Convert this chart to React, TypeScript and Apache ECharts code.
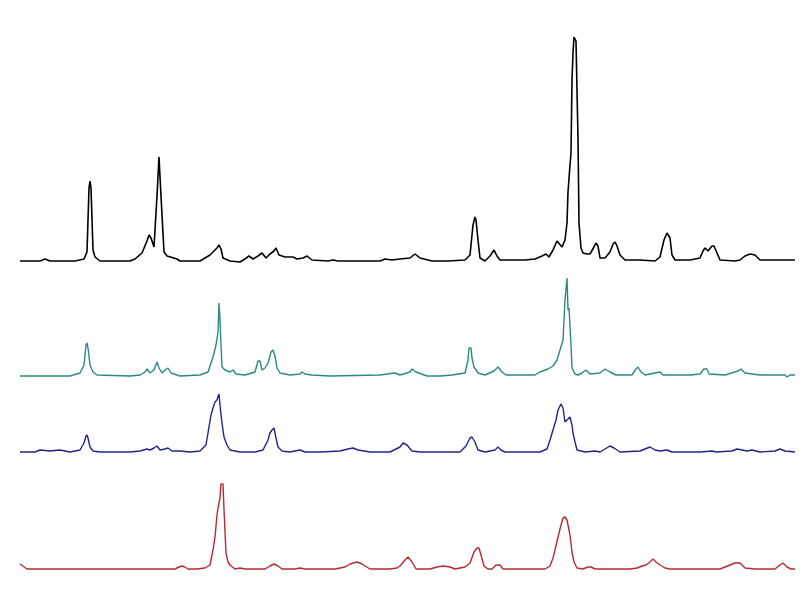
import React, { useEffect, useRef } from "react";
import * as echarts from "echarts";

// [2θ (deg), intensity (a.u.)]
const sampleA: [number, number][] = [
  [5.0,0],[7.0,0],[7.5,2],[8.0,0],[10.5,0],[11.4,2],[11.7,9],[11.9,73],[12.0,80],[12.1,73],[12.3,11],[12.5,4],[13.0,0],
  [16.0,0],[16.5,2],[17.2,8],[17.7,20],[17.9,26],[18.1,23],[18.4,14],[18.7,65],[18.9,104],[19.1,65],[19.4,9],[19.7,5],[20.7,2],[21.0,0],
  [23.0,0],[24.0,6],[24.7,13],[24.9,16],[25.1,12],[25.3,3],[26.0,0],[27.0,-1],[27.5,2],[27.9,5],[28.3,2],[28.8,5],[29.2,8],[29.6,3],
  [30.0,7],[30.4,10],[30.6,13],[30.9,6],[31.5,4],[32.3,4],[32.7,2],[33.3,3],[33.7,5],[34.2,1],[35.8,0],[36.3,1],[36.8,0],
  [41.0,0],[41.5,2],[42.2,1],[43.0,2],[44.0,3],[44.5,7],[45.0,3],[46.2,0],[47.8,0],[49.5,1],[50.0,6],[50.3,36],[50.5,44],[50.6,41],
  [50.8,21],[51.0,3],[51.5,0],[52.0,5],[52.4,11],[52.7,5],[53.0,1],[55.5,1],[56.5,2],[57.2,5],[57.6,7],[57.9,4],[58.3,11],[58.7,20],
  [59.2,14],[59.5,21],[59.7,38],[59.8,69],[60.0,96],[60.1,108],[60.2,181],[60.3,208],[60.4,224],[60.6,220],[60.7,171],[60.8,123],
  [60.9,38],[61.1,13],[61.3,8],[61.7,7],[62.0,7],[62.4,14],[62.6,18],[62.8,15],[63.0,3],[63.5,3],[64.0,9],[64.3,17],[64.5,19],
  [64.7,15],[65.0,6],[65.5,1],[67.0,1],[68.5,0],[69.0,4],[69.4,21],[69.7,28],[70.0,23],[70.2,6],[70.5,1],[72.0,1],[73.0,3],
  [73.3,10],[73.5,13],[73.8,10],[74.2,15],[74.4,15],[74.7,8],[75.0,1],[76.5,0],[77.0,1],[77.5,5],[78.0,7],[78.5,6],[79.0,1],[82.5,1],
];

const sampleB: [number, number][] = [
  [5.0,-1],[10.0,-1],[11.0,2],[11.4,10],[11.6,30],[11.7,32],[11.8,27],[12.0,10],[12.3,3],[12.7,0],[16.0,-1],[17.0,0],[17.5,3],
  [17.7,6],[18.0,2],[18.4,5],[18.7,13],[18.9,7],[19.2,2],[19.5,5],[19.8,7],[20.1,2],[21.0,-1],[23.0,0],[23.8,3],[24.3,18],
  [24.6,30],[24.8,43],[24.9,72],[25.0,55],[25.1,30],[25.2,8],[25.5,5],[26.0,3],[26.3,5],[26.6,1],[27.5,0],[28.5,3],[28.8,14],
  [29.0,14],[29.2,5],[29.5,7],[29.8,12],[30.1,23],[30.3,25],[30.5,19],[30.7,7],[31.0,2],[32.0,0],[33.0,1],[33.2,3],[33.5,1],
  [34.2,0],[36.0,-1],[41.0,0],[42.5,2],[43.0,0],[44.0,3],[44.2,6],[44.6,3],[45.7,-1],[47.0,-1],[48.2,0],[49.5,2],[49.8,15],
  [49.9,27],[50.1,27],[50.2,17],[50.4,8],[50.8,2],[51.5,0],[52.4,4],[52.8,8],[53.2,3],[53.6,0],[56.5,0],[57.0,3],[57.8,6],
  [58.3,9],[58.7,15],[59.0,25],[59.3,35],[59.4,55],[59.5,75],[59.7,97],[59.8,65],[59.9,67],[60.1,30],[60.2,7],[60.5,1],[60.8,0],
  [61.2,2],[61.6,5],[62.0,1],[63.0,2],[63.5,6],[64.0,3],[64.6,0],[66.2,0],[66.6,6],[66.8,8],[67.1,3],[67.5,0],[68.5,2],[69.0,3],
  [69.3,0],[72.0,0],[73.0,1],[73.4,6],[73.7,6],[73.9,1],[75.5,0],[76.8,4],[77.1,6],[77.5,2],[79.0,0],[81.5,0],[81.7,-2],[82.0,0],[82.5,0],
];

const sampleC: [number, number][] = [
  [5.0,0],[6.5,0],[7.0,2],[8.0,1],[9.0,2],[10.0,0],[11.0,2],[11.4,9],[11.6,16],[11.7,17],[11.8,14],[12.0,5],[12.3,1],[13.0,0],
  [16.0,0],[17.0,1],[17.7,3],[18.0,2],[18.4,4],[18.7,6],[19.0,2],[19.5,3],[19.8,4],[20.2,1],[21.0,1],[22.0,0],[23.0,1],[23.6,7],
  [23.8,19],[24.1,37],[24.3,44],[24.5,50],[24.7,52],[24.9,58],[25.0,47],[25.2,29],[25.4,15],[25.7,7],[26.0,2],[27.0,0],[28.5,0],
  [29.3,2],[29.8,12],[30.0,19],[30.2,22],[30.4,24],[30.6,14],[30.8,5],[31.2,1],[32.0,0],[33.0,2],[33.5,0],[35.0,0],[37.0,1],
  [37.8,3],[38.3,4],[38.8,2],[40.0,0],[42.0,0],[43.0,5],[43.3,9],[43.7,7],[44.2,1],[45.0,0],[49.0,0],[49.6,6],[50.0,14],[50.2,15],
  [50.5,10],[50.8,2],[51.5,0],[52.5,2],[52.8,5],[53.1,2],[53.5,0],[57.0,0],[57.7,3],[58.0,12],[58.3,22],[58.6,32],[58.8,42],
  [59.1,48],[59.3,44],[59.5,30],[59.7,32],[60.0,35],[60.2,27],[60.3,19],[60.5,10],[60.7,2],[61.5,0],[62.5,1],[63.0,0],[63.5,3],
  [64.0,6],[64.4,4],[65.0,0],[67.0,1],[67.5,3],[68.0,5],[68.5,2],[69.0,1],[69.7,2],[70.2,0],[73.0,0],[74.2,1],[74.6,0],[76.2,1],
  [76.7,3],[77.2,2],[77.7,1],[78.2,2],[79.0,0],[80.5,1],[81.0,3],[81.5,1],[82.5,0],
];

const sampleD: [number, number][] = [
  [5.0,5],[5.7,0],[20.5,0],[20.9,2],[21.2,3],[21.5,2],[21.8,0],[22.7,0],[23.5,1],[24.0,4],[24.3,19],[24.5,32],[24.7,54],[24.8,61],
  [25.0,71],[25.1,85],[25.3,85],[25.4,59],[25.6,16],[25.8,7],[26.0,4],[26.5,0],[27.0,1],[27.5,0],[29.5,0],[30.0,3],[30.4,5],
  [30.8,3],[31.2,0],[32.5,0],[33.0,1],[33.5,0],[35.8,0],[36.5,0],[37.5,2],[38.0,5],[38.7,7],[39.2,5],[40.0,0],[42.0,0],[42.7,1],
  [43.0,3],[43.5,9],[43.8,12],[44.2,7],[44.6,0],[46.0,0],[46.7,2],[47.3,3],[48.0,2],[48.5,0],[49.0,1],[49.5,2],[50.0,6],[50.4,17],
  [50.7,21],[50.9,21],[51.1,14],[51.4,3],[51.8,0],[52.2,0],[52.6,4],[53.0,4],[53.3,0],[57.5,0],[58.0,3],[58.3,11],[58.5,19],
  [58.8,32],[59.1,44],[59.3,51],[59.5,52],[59.7,49],[60.0,34],[60.2,17],[60.4,7],[60.7,1],[61.3,0],[61.8,2],[62.1,2],[62.5,0],
  [63.0,0],[66.0,0],[66.7,1],[67.2,3],[67.6,4],[68.0,7],[68.3,10],[68.6,7],[69.0,4],[69.5,1],[70.0,0],[75.0,0],[76.0,4],[76.5,6],
  [77.0,6],[77.5,1],[78.5,0],[80.5,0],[81.0,4],[81.3,6],[81.7,2],[82.1,0],[82.5,0],
];

const seriesNames = ["A", "B", "C", "D"];
const seriesData = [sampleA, sampleB, sampleC, sampleD];
const seriesColors = ["#000000", "#2b8a80", "#23238c", "#b82a32"];
const yMax = [230, 100, 60, 90];
const xMin = 5;
const xMax = 82.5;

// layout: baseline pixel for each trace
const baselines = [261, 375, 452, 569];
const yMin = -5;

export default function App() {
  const ref = useRef<HTMLDivElement>(null);
  useEffect(() => {
    if (!ref.current) return;
    const chart = echarts.init(ref.current, null, { renderer: "svg" });
    const grids = baselines.map((b, i) => ({
      left: 20,
      right: 5,
      top: b - yMax[i],
      height: yMax[i] - yMin,
    }));
    chart.setOption({
      animation: false,
      backgroundColor: "#ffffff",
      grid: grids,
      xAxis: grids.map((_, i) => ({
        type: "value",
        gridIndex: i,
        min: xMin,
        max: xMax,
        show: false,
      })),
      yAxis: grids.map((_, i) => ({
        type: "value",
        gridIndex: i,
        min: yMin,
        max: yMax[i],
        show: false,
      })),
      series: seriesData.map((d, i) => ({
        name: seriesNames[i],
        type: "line",
        xAxisIndex: i,
        yAxisIndex: i,
        data: d,
        showSymbol: false,
        clip: false,
        lineStyle: { color: seriesColors[i], width: i === 0 ? 1.6 : 1.4 },
      })),
    });
    return () => chart.dispose();
  }, []);
  return (
    <div
      ref={ref}
      style={{ position: "absolute", left: 0, top: 0, width: 800, height: 600 }}
    />
  );
}
